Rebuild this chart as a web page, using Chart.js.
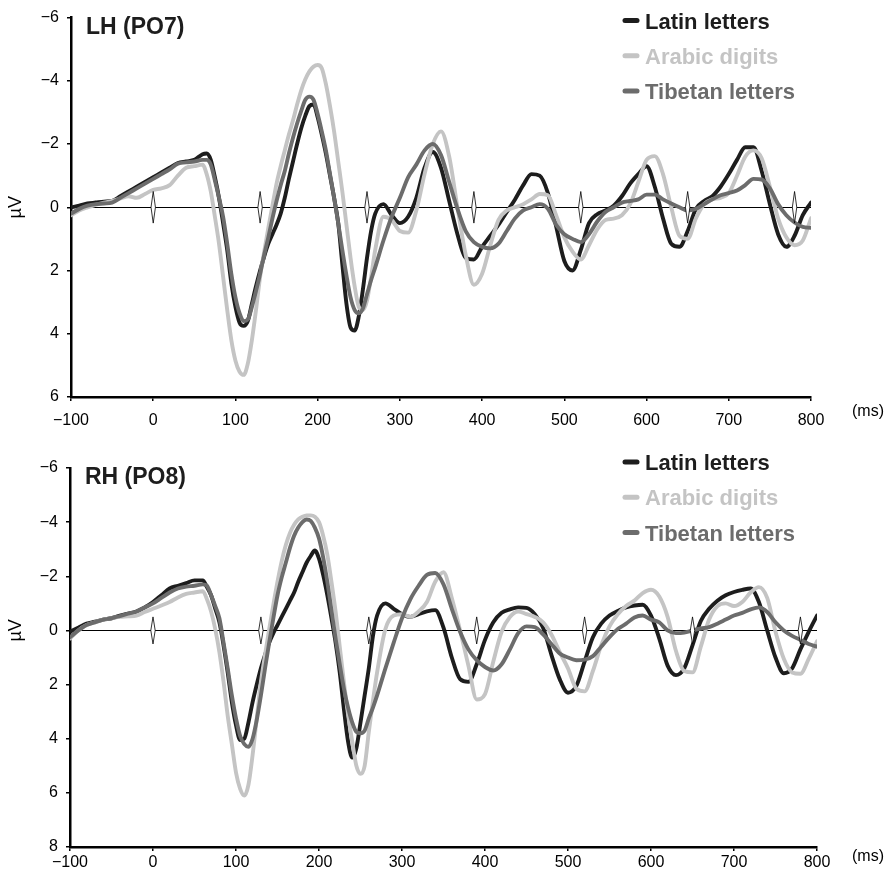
<!DOCTYPE html>
<html>
<head>
<meta charset="utf-8">
<script src="https://cdn.jsdelivr.net/npm/chart.js@4.4.1/dist/chart.umd.min.js"></script>
<style>
  html, body { margin: 0; padding: 0; background: #fff; }
  #wrap { position: relative; width: 885px; height: 873px; overflow: hidden; }
  canvas { position: absolute; left: 0; }
  #cTop { top: 0; }
  #cBot { top: 440px; }
</style>
</head>
<body>
<div id="wrap">
  <canvas id="cTop" width="885" height="440"></canvas>
  <canvas id="cBot" width="885" height="433"></canvas>
</div>
<script>
// ---- data (ms / µV) ----
const times = [
  -100, -90, -80, -70, -60, -50, -40, -30, -20, -10, 0, 10, 20, 30, 40, 50, 60,
  65, 70, 75, 80, 85, 90, 95, 100, 105, 110, 115, 120, 125, 130, 135, 140, 145, 150, 155, 160,
  165, 170, 175, 180, 185, 190, 195, 200, 205, 210, 215, 220, 225, 230, 235, 240, 245, 250, 255, 260, 265, 270,
  280, 290, 300, 310, 320, 330, 340, 350, 360, 370, 380, 390, 400, 410, 420, 430, 440, 450, 460, 470,
  480, 490, 500, 510, 520, 530, 540, 550, 560, 570, 580, 590, 600, 610, 620, 630, 640, 650, 660, 670,
  680, 690, 700, 710, 720, 730, 740, 750, 760, 770, 780, 790, 800
];
const onsets = [0, 130, 260, 390, 520, 650, 780];
const seriesNames = ['Latin letters', 'Arabic digits', 'Tibetan letters'];
const seriesColors = ['#1d1d1d', '#c4c4c4', '#6c6c6c'];

// LH (PO7)
const lhLatin = [
  0.0, -0.05, -0.12, -0.15, -0.18, -0.2, -0.35, -0.5, -0.65, -0.8, -0.95, -1.1, -1.25, -1.4, -1.45, -1.5, -1.68,
  -1.7, -1.5, -0.95, -0.3, 0.5, 1.35, 2.4, 3.15, 3.65, 3.75, 3.6, 3.05, 2.5, 2.0, 1.55, 1.15, 0.85, 0.55, 0.2, -0.3,
  -0.9, -1.45, -2.0, -2.5, -2.9, -3.2, -3.25, -2.85, -2.3, -1.7, -1.0, -0.3, 0.5, 1.8, 3.05, 3.8, 3.9, 3.45, 2.6, 1.6, 0.75, 0.2,
  -0.1, 0.25, 0.5, 0.3, -0.3, -1.25, -1.75, -1.25, -0.2, 0.85, 1.6, 1.65, 1.25, 0.9, 0.55, 0.15, -0.25, -0.7, -1.05, -1.0,
  -0.45, 0.6, 1.7, 2.0, 1.35, 0.5, 0.22, 0.1, -0.05, -0.35, -0.75, -1.05, -1.3, -0.65, 0.35, 1.15, 1.25, 0.75, 0.05, -0.2,
  -0.35, -0.65, -1.05, -1.5, -1.9, -1.9, -1.15, -0.1, 0.85, 1.25, 0.9, 0.25, -0.15
];
const lhArabic = [
  0.25, 0.1, 0.0, -0.08, -0.15, -0.2, -0.28, -0.35, -0.3, -0.42, -0.55, -0.6, -0.7, -1.0, -1.25, -1.3, -1.35,
  -1.05, -0.5, 0.3, 1.15, 2.2, 3.25, 4.2, 4.85, 5.2, 5.3, 4.95, 4.2, 3.25, 2.2, 1.4, 0.65, -0.05, -0.75, -1.3, -1.8,
  -2.3, -2.75, -3.25, -3.7, -4.05, -4.3, -4.45, -4.5, -4.4, -3.9, -3.2, -2.4, -1.45, -0.5, 0.55, 1.6, 2.5, 3.15, 3.25, 2.95, 2.2, 1.35,
  0.3, 0.4, 0.75, 0.8, 0.1, -1.05, -2.0, -2.4, -1.6, 0.0, 1.5, 2.45, 2.1, 1.2, 0.4, 0.1, 0.0, -0.1, -0.25, -0.42,
  -0.38, 0.25, 0.95, 1.4, 1.65, 1.2, 0.7, 0.4, 0.36, 0.25, -0.1, -0.8, -1.5, -1.62, -1.05, 0.0, 0.9, 1.0, 0.35, -0.1,
  -0.25, -0.3, -0.45, -1.0, -1.6, -1.8, -1.55, -0.65, 0.35, 0.95, 1.2, 1.05, 0.35
];
const lhTibetan = [
  0.2, 0.05, -0.05, -0.1, -0.12, -0.15, -0.3, -0.45, -0.6, -0.75, -0.9, -1.05, -1.2, -1.38, -1.42, -1.45, -1.5,
  -1.5, -1.35, -0.85, -0.3, 0.3, 1.15, 2.1, 2.85, 3.35, 3.6, 3.55, 3.15, 2.65, 2.1, 1.5, 0.95, 0.35, -0.2, -0.7, -1.15,
  -1.7, -2.2, -2.65, -3.05, -3.4, -3.5, -3.4, -2.95, -2.4, -1.8, -1.05, -0.3, 0.5, 1.35, 2.15, 2.85, 3.25, 3.35, 3.2, 2.75, 2.3, 1.9,
  1.05, 0.3, -0.3, -0.95, -1.35, -1.8, -2.0, -1.65, -0.8, 0.05, 0.75, 1.1, 1.25, 1.3, 1.15, 0.75, 0.35, 0.1, 0.0, -0.1,
  0.05, 0.55, 0.85, 1.0, 1.1, 0.85, 0.45, 0.15, 0.0, -0.15, -0.2, -0.25, -0.4, -0.4, -0.25, -0.12, 0.0, 0.1, 0.05, -0.1,
  -0.25, -0.38, -0.45, -0.53, -0.7, -0.9, -0.88, -0.6, -0.1, 0.25, 0.48, 0.62, 0.65
];

// RH (PO8)
const rhLatin = [
  0.05, -0.1, -0.25, -0.32, -0.4, -0.45, -0.55, -0.62, -0.7, -0.85, -1.05, -1.3, -1.55, -1.65, -1.75, -1.85, -1.85,
  -1.6, -1.3, -0.8, -0.3, 0.55, 1.55, 2.65, 3.5, 4.05, 4.0, 3.4, 2.65, 2.0, 1.4, 0.9, 0.45, 0.1, -0.2, -0.5, -0.8,
  -1.1, -1.4, -1.8, -2.15, -2.5, -2.75, -2.95, -2.65, -2.05, -1.3, -0.45, 0.45, 1.55, 2.9, 4.1, 4.7, 4.35, 3.4, 2.4, 1.4, 0.2, -0.55,
  -1.0, -0.8, -0.6, -0.5, -0.6, -0.7, -0.75, -0.1, 1.0, 1.8, 1.9, 1.25, 0.35, -0.3, -0.65, -0.78, -0.85, -0.83, -0.6, -0.1,
  0.9, 1.8, 2.3, 2.05, 1.15, 0.25, -0.25, -0.55, -0.72, -0.85, -0.92, -0.95, -0.55, 0.3, 1.3, 1.65, 1.4, 0.55, -0.35, -0.8,
  -1.1, -1.3, -1.42, -1.5, -1.55, -1.05, 0.0, 1.0, 1.58, 1.4, 0.7, 0.05, -0.55
];
const rhArabic = [
  0.3, 0.0, -0.2, -0.3, -0.4, -0.45, -0.5, -0.52, -0.55, -0.68, -0.8, -0.92, -1.05, -1.22, -1.35, -1.4, -1.45,
  -1.15, -0.7, -0.05, 0.8, 1.9, 3.15, 4.2, 5.25, 5.85, 6.1, 5.7, 4.6, 3.25, 1.9, 0.9, -0.05, -0.95, -1.8, -2.55, -3.15,
  -3.6, -3.9, -4.1, -4.2, -4.25, -4.25, -4.2, -4.0, -3.5, -2.8, -1.8, -0.7, 0.6, 1.9, 3.1, 4.1, 5.0, 5.3, 5.0, 3.75, 2.6, 1.55,
  -0.05, -0.55, -0.6, -0.5, -0.7, -1.05, -1.8, -2.15, -1.2, 0.0, 1.3, 2.55, 2.35, 1.15, 0.05, -0.5, -0.7, -0.6, -0.5, -0.3,
  0.15, 0.8, 1.4, 2.15, 2.25, 1.5, 0.55, -0.15, -0.6, -0.9, -1.1, -1.38, -1.5, -1.25, -0.5, 0.75, 1.5, 1.55, 0.6, -0.4,
  -0.9, -1.0, -0.9, -1.05, -1.4, -1.6, -1.2, 0.05, 1.05, 1.55, 1.6, 1.05, 0.4
];
const rhTibetan = [
  0.25, 0.0, -0.2, -0.3, -0.4, -0.45, -0.53, -0.62, -0.7, -0.85, -1.0, -1.2, -1.4, -1.55, -1.62, -1.65, -1.7,
  -1.65, -1.3, -0.9, -0.45, 0.45, 1.4, 2.4, 3.25, 3.9, 4.2, 4.3, 4.0, 3.3, 2.4, 1.4, 0.45, -0.45, -1.3, -1.95, -2.5,
  -3.05, -3.5, -3.8, -4.0, -4.1, -4.05, -3.8, -3.4, -2.7, -1.8, -0.75, 0.3, 1.25, 2.15, 2.85, 3.4, 3.75, 3.8, 3.7, 3.25, 2.85, 2.4,
  1.4, 0.45, -0.45, -1.15, -1.65, -2.05, -2.12, -1.7, -0.8, 0.05, 0.7, 1.1, 1.35, 1.48, 1.25, 0.7, 0.1, -0.15, -0.12, 0.15,
  0.5, 0.85, 1.0, 1.1, 1.08, 0.95, 0.6, 0.25, -0.05, -0.25, -0.48, -0.55, -0.4, -0.3, 0.0, 0.1, 0.08, 0.0, -0.07, -0.12,
  -0.25, -0.4, -0.55, -0.65, -0.78, -0.85, -0.68, -0.3, 0.0, 0.2, 0.35, 0.5, 0.6
];

const FONT = "'Liberation Sans', Arial, Helvetica, sans-serif";
const minus = v => (v < 0 ? '\u2212' + Math.abs(v) : String(v));

// zero line, onset markers, title, legend and unit labels
const erpDecor = {
  id: 'erpDecor',
  beforeDatasetsDraw(chart) {
    const { ctx, chartArea: a, scales: { y } } = chart;
    const y0 = Math.round(y.getPixelForValue(0)) + 0.5;
    ctx.save();
    ctx.strokeStyle = '#000';
    ctx.lineWidth = 1;
    ctx.beginPath(); ctx.moveTo(a.left, y0); ctx.lineTo(a.right, y0); ctx.stroke();
    ctx.restore();
  },
  afterDatasetsDraw(chart) {
    const { ctx, scales: { x, y } } = chart;
    const top = y.getPixelForValue(-0.5), bot = y.getPixelForValue(0.5), mid = y.getPixelForValue(0);
    ctx.save();
    onsets.forEach(t => {
      const px = x.getPixelForValue(t);
      ctx.beginPath();
      ctx.moveTo(px, top); ctx.lineTo(px + 2.2, mid); ctx.lineTo(px, bot); ctx.lineTo(px - 2.2, mid);
      ctx.closePath();
      ctx.fillStyle = '#fff'; ctx.fill();
      ctx.strokeStyle = '#000'; ctx.lineWidth = 0.8; ctx.stroke();
    });
    ctx.restore();
  },
  afterDraw(chart, args, o) {
    const { ctx, chartArea: a, scales: { y } } = chart;
    ctx.save();
    ctx.fillStyle = '#1d1d1d';
    ctx.font = 'bold 23px ' + FONT;
    ctx.textAlign = 'left'; ctx.textBaseline = 'alphabetic';
    ctx.fillText(o.title, a.left + 15, a.top + 16);

    ctx.font = 'bold 22px ' + FONT;
    seriesNames.forEach((n, i) => {
      const base = o.legendY + i * 35.3;
      ctx.strokeStyle = seriesColors[i]; ctx.lineWidth = 5; ctx.lineCap = 'round';
      ctx.beginPath(); ctx.moveTo(625, base - 8); ctx.lineTo(637, base - 8); ctx.stroke();
      ctx.fillStyle = seriesColors[i];
      ctx.fillText(n, 645, base);
    });

    ctx.fillStyle = '#000';
    ctx.font = '16px ' + FONT;
    ctx.textBaseline = 'middle';
    ctx.fillText('(ms)', 852, o.msY);
    ctx.font = '18px ' + FONT;
    ctx.translate(16, y.getPixelForValue(0));
    ctx.rotate(-Math.PI / 2);
    ctx.textAlign = 'center';
    ctx.fillText('\u00b5V', 0, 0);
    ctx.restore();
  }
};

function makeChart(id, panel) {
  const vals = panel.series;
  return new Chart(document.getElementById(id), {
    type: 'line',
    data: {
      datasets: vals.map((v, i) => ({
        label: seriesNames[i],
        data: times.map((t, k) => ({ x: t, y: v[k] })),
        borderColor: seriesColors[i],
        borderWidth: 3.9,
        pointRadius: 0,
        cubicInterpolationMode: 'monotone',
        borderCapStyle: 'round',
        borderJoinStyle: 'round',
        order: 3 - i
      }))
    },
    options: {
      responsive: false, animation: false, devicePixelRatio: 1,
      layout: { padding: panel.padding },
      plugins: {
        legend: { display: false }, tooltip: { enabled: false },
        erpDecor: { title: panel.title, legendY: panel.legendY, msY: panel.msY }
      },
      scales: {
        x: {
          type: 'linear', min: -100, max: 800,
          afterFit: s => { s.height = panel.xHeight; },
          border: { color: '#000', width: 2.5 },
          grid: { drawOnChartArea: false, drawTicks: true, tickLength: 4, color: '#000', lineWidth: 1.5 },
          ticks: { stepSize: 100, padding: panel.xPad, color: '#000', font: { family: FONT, size: 16 }, callback: minus, maxRotation: 0 }
        },
        y: {
          reverse: true, min: panel.yMin, max: panel.yMax,
          afterFit: s => { s.width = panel.yWidth; },
          border: { color: '#000', width: 2.5 },
          grid: { drawOnChartArea: false, drawTicks: true, tickLength: 4, color: '#000', lineWidth: 1.5 },
          ticks: { stepSize: 2, padding: 8, color: '#000', font: { family: FONT, size: 16 }, callback: minus }
        }
      }
    },
    plugins: [erpDecor]
  });
}

makeChart('cTop', {
  title: 'LH (PO7)', series: [lhLatin, lhArabic, lhTibetan],
  yMin: -6, yMax: 6, padding: { top: 17, right: 74, left: 0, bottom: 0 },
  yWidth: 71, xHeight: 43, xPad: 10, legendY: 28.5, msY: 412
});
makeChart('cBot', {
  title: 'RH (PO8)', series: [rhLatin, rhArabic, rhTibetan],
  yMin: -6, yMax: 8, padding: { top: 28, right: 68, left: 0, bottom: 0 },
  yWidth: 70, xHeight: 26, xPad: 2, legendY: 30, msY: 417
});
</script>
</body>
</html>
